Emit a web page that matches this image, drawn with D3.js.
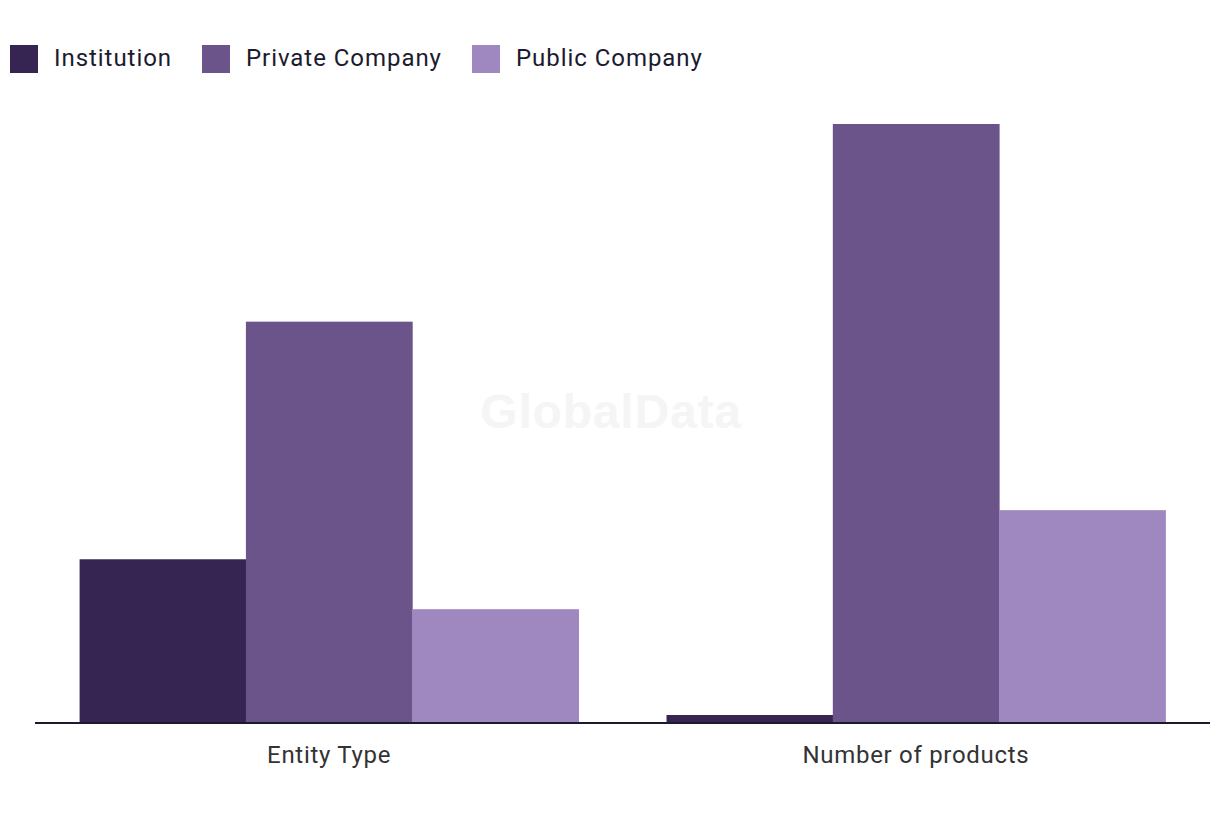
<!DOCTYPE html>
<html><head><meta charset="utf-8">
<script src="https://cdn.jsdelivr.net/npm/d3@7"></script>
<style>html,body{margin:0;padding:0;background:#fff;}svg{display:block;}</style>
</head><body>
<script>
const categories = ["Entity Type", "Number of products"];
const seriesNames = ["Institution", "Private Company", "Public Company"];
const institution = [41, 2];
const privateCompany = [100.5, 150];
const publicCompany = [28.5, 53.3];
const seriesColors = ["#362553", "#6a5489", "#9f88c0"];

const W = 1220, H = 820;
const svg = d3.select("body").append("svg").attr("width", W).attr("height", H);
const font = "Roboto, 'Liberation Sans', sans-serif";

const xOuter = d3.scaleBand().domain(categories).range([35, 1210]).paddingInner(0.15).paddingOuter(0.076);
const x1 = d3.scaleBand().domain(seriesNames).range([0, xOuter.bandwidth()]);
const y = d3.scaleLinear().domain([0, 150]).range([723, 124]);

const data = [institution, privateCompany, publicCompany];

// watermark
svg.append("text").attr("x", 611).attr("y", 428).attr("text-anchor", "middle")
  .attr("font-family", "Liberation Sans, Arial, sans-serif").attr("font-weight", "bold")
  .attr("font-size", 48).attr("letter-spacing", "0.8px").attr("fill", "#f5f5f5").text("GlobalData");

const g = svg.append("g");
categories.forEach((c, ci) => {
  seriesNames.forEach((s, si) => {
    g.append("rect")
      .attr("x", xOuter(c) + x1(s))
      .attr("y", y(data[si][ci]))
      .attr("width", x1.bandwidth() + 0.5)
      .attr("height", y(0) - y(data[si][ci]))
      .attr("fill", seriesColors[si]);
  });
});

// axis
const axis = svg.append("g").attr("transform", "translate(0,723)")
  .call(d3.axisBottom(xOuter).tickSize(0).tickPadding(23));
axis.select(".domain").remove();
axis.append("line").attr("x1", 35).attr("x2", 1210).attr("y1", 0).attr("y2", 0)
  .attr("stroke", "#1c1a2e").attr("stroke-width", 2);
axis.selectAll(".tick text").attr("font-family", font).attr("font-size", 24).attr("fill", "#333")
  .attr("letter-spacing", "0.7px").attr("dy", "0.71em");

// legend
const legendX = [10, 202, 472];
const lg = svg.append("g");
seriesNames.forEach((s, i) => {
  lg.append("rect").attr("x", legendX[i]).attr("y", 45).attr("width", 28).attr("height", 28).attr("fill", seriesColors[i]);
  lg.append("text").attr("x", legendX[i] + 44).attr("y", 58).attr("dy", "0.35em")
    .attr("font-family", font).attr("font-size", 24).attr("letter-spacing", "0.95px")
    .attr("fill", "#1c1a2e").text(s);
});
</script>
</body></html>
